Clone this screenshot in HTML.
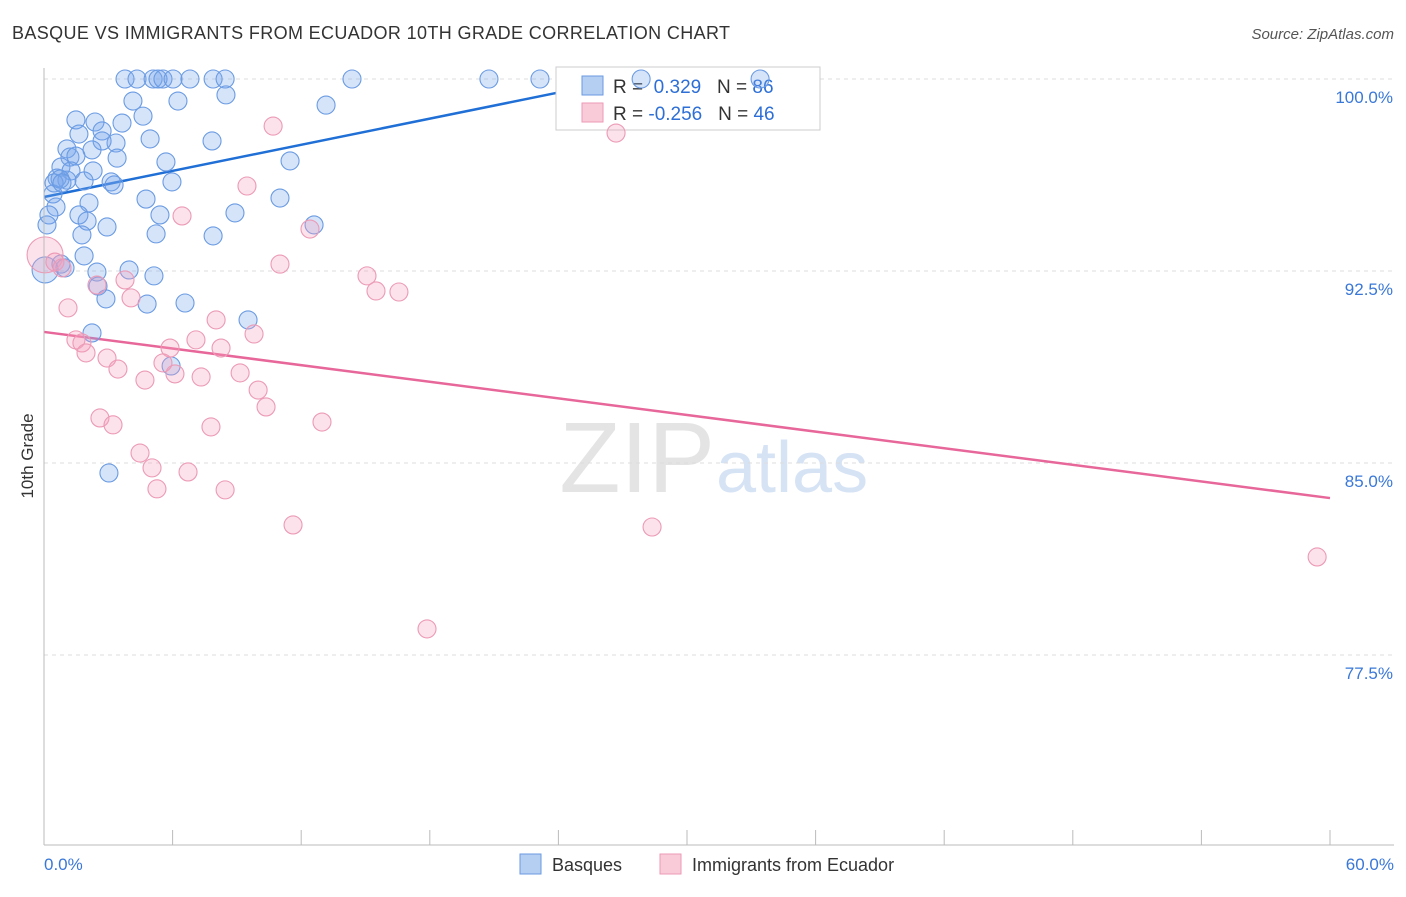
<!DOCTYPE html>
<html><head><meta charset="utf-8"><style>
body{margin:0;background:#fff;font-family:"Liberation Sans",sans-serif}
svg text{font-family:"Liberation Sans",sans-serif}
</style></head><body>
<svg id="c" width="1406" height="892">
<text x="12" y="39" font-size="18" fill="#333" textLength="718">BASQUE VS IMMIGRANTS FROM ECUADOR 10TH GRADE CORRELATION CHART</text>
<text x="1394" y="39" font-size="15" fill="#555" font-style="italic" text-anchor="end">Source: ZipAtlas.com</text>
<text x="33" y="456" font-size="17" fill="#333" transform="rotate(-90 33 456)" text-anchor="middle">10th Grade</text>
<text x="715" y="492" font-size="100" fill="#e4e4e4" text-anchor="end" font-family="Liberation Serif">ZIP</text>
<text x="716" y="492" font-size="72" fill="#d6e3f5">atlas</text>
<g id="grid"></g><g id="lines"></g>
<g>
<rect x="556" y="67" width="264" height="63" fill="#fff" stroke="#ccc"/>
<rect x="582" y="76" width="21" height="19" fill="#b5cff3" stroke="#6a9ae0"/>
<rect x="582" y="103" width="21" height="19" fill="#f9cbd9" stroke="#ec9ab5"/>
<text x="613" y="93" font-size="19" fill="#333">R = <tspan fill="#2d6fd6">&#160;0.329</tspan>&#160;&#160;&#160;N = <tspan fill="#2d6fd6">86</tspan></text>
<text x="613" y="120" font-size="19" fill="#333">R = <tspan fill="#2d6fd6">-0.256</tspan>&#160;&#160;&#160;N = <tspan fill="#2d6fd6">46</tspan></text>
</g>
<g id="pts"></g>
<line x1="44" y1="68" x2="44" y2="845" stroke="#bbb"/>
<line x1="44" y1="845" x2="1394" y2="845" stroke="#bbb"/>
<text x="44" y="870" font-size="17" fill="#3a78d8">0.0%</text>
<text x="1394" y="870" font-size="17" fill="#3a78d8" text-anchor="end">60.0%</text>
<g>
<rect x="520" y="854" width="21" height="20" fill="#b5cff3" stroke="#6a9ae0"/>
<text x="552" y="871" font-size="18" fill="#333">Basques</text>
<rect x="660" y="854" width="21" height="20" fill="#f9cbd9" stroke="#ec9ab5"/>
<text x="692" y="871" font-size="18" fill="#333">Immigrants from Ecuador</text>
</g>
</svg>
<script>
const yTicks=[100,92.5,85,77.5];
const yTickLabels=["100.0%","92.5%","85.0%","77.5%"];
const xTicks=[0,6,12,18,24,30,36,42,48,54,60];
const blueX=[3.78,4.34,5.09,5.32,5.55,6.02,6.81,7.89,8.45,14.37,20.76,23.14,27.86,33.41,4.15,6.25,8.49,13.16,4.62,1.49,2.38,3.64,2.71,1.63,4.95,7.84,3.36,2.71,2.24,1.07,1.21,1.49,3.41,5.69,11.48,0.79,1.26,2.29,0.61,1.07,1.87,3.13,3.27,0.47,5.97,0.42,4.76,11.01,2.10,0.56,0.23,1.63,5.41,8.91,2.01,12.60,0.14,2.94,1.77,5.23,7.89,1.87,0.05,0.79,2.47,3.97,5.13,2.52,2.89,4.81,6.58,9.52,2.24,5.93,3.03,0.98,0.75,0.84];
const blueY=[100,100,100,100,100,100,100,100,100,100,100,100,100,100,99.14,99.14,99.38,98.98,98.55,98.40,98.32,98.28,97.97,97.85,97.66,97.58,97.50,97.58,97.23,97.27,96.95,96.99,96.91,96.76,96.80,96.56,96.41,96.41,96.13,96.05,96.02,95.98,95.86,95.94,95.98,95.51,95.31,95.35,95.16,95.00,94.69,94.69,94.69,94.77,94.45,94.30,94.30,94.22,93.91,93.95,93.87,93.09,92.54,92.77,92.46,92.54,92.31,91.91,91.41,91.21,91.25,90.59,90.08,88.79,84.61,92.62,96.09,95.94];
const pinkX=[0.05,0.51,0.84,10.69,26.69,9.47,6.44,12.41,11.01,15.07,15.49,16.56,3.78,2.47,4.06,1.12,1.49,1.77,1.96,2.94,3.45,4.71,6.11,5.88,5.55,7.09,8.03,8.26,9.15,9.99,10.36,9.80,7.33,2.61,3.22,7.79,12.97,4.48,5.04,6.72,5.27,8.45,11.62,28.37,59.40,17.87];
const pinkY=[93.13,92.85,92.62,98.16,97.89,95.82,94.65,94.14,92.77,92.31,91.72,91.68,92.15,91.95,91.45,91.06,89.81,89.69,89.30,89.10,88.67,88.24,88.48,89.49,88.91,89.81,90.59,89.49,88.52,87.85,87.19,90.04,88.36,86.76,86.49,86.41,86.60,85.39,84.81,84.65,83.99,83.95,82.58,82.50,81.33,78.52];
const blueTrend=[[0,95.39],[26.4,99.88]];
const pinkTrend=[[0,90.12],[60,83.63]];
const X=v=>44+v/60*1286;
const Y=v=>79+(100-v)/7.5*192;
const NS="http://www.w3.org/2000/svg";
function mk(t,a,p){const e=document.createElementNS(NS,t);for(const k in a)e.setAttribute(k,a[k]);p.appendChild(e);return e;}
const grid=document.getElementById('grid'),pts=document.getElementById('pts'),lines=document.getElementById('lines');
yTicks.forEach((t,i)=>{
 const l=mk('line',{x1:44,x2:1394,y1:Y(t),y2:Y(t),stroke:'#ddd','stroke-dasharray':'4,4'},grid);
 
 
 const tx=mk('text',{x:1393,y:Y(t)+24,'font-size':17,fill:'#3a78d8','text-anchor':'end'},grid);
 tx.textContent=yTickLabels[i];
 
 
});
xTicks.forEach(t=>{
 const l=mk('line',{x1:X(t),x2:X(t),y1:830,y2:845,stroke:'#bbb'},grid);
 
 
});
blueX.forEach((x,i)=>{
 const c=mk('circle',{cx:X(x),cy:Y(blueY[i]),r:(i==62?13:9),fill:'rgba(120,165,235,0.3)',stroke:'#6a9be3','stroke-width':1.1},pts);
 
 
});
pinkX.forEach((x,i)=>{
 const c=mk('circle',{cx:X(x),cy:Y(pinkY[i]),r:(i==0?18:9),fill:'rgba(245,160,190,0.3)',stroke:'#ec9ab5','stroke-width':1.1},pts);
 
 
});
const bl=mk('line',{x1:X(blueTrend[0][0]),y1:Y(blueTrend[0][1]),x2:X(blueTrend[1][0]),y2:Y(blueTrend[1][1]),stroke:'#1f6fd6','stroke-width':2.5},lines);


const pl=mk('line',{x1:X(pinkTrend[0][0]),y1:Y(pinkTrend[0][1]),x2:X(pinkTrend[1][0]),y2:Y(pinkTrend[1][1]),stroke:'#e8679a','stroke-width':2.5},lines);


</script>
</body></html>
